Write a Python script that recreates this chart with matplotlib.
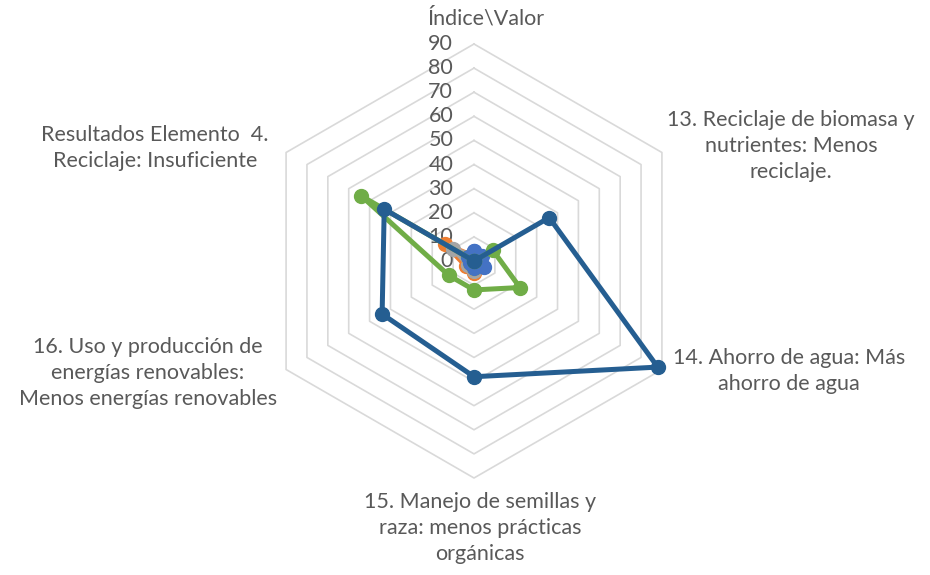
import numpy as np
import matplotlib.pyplot as plt

categories = [
    "Índice\\Valor",
    "13. Reciclaje de biomasa y\nnutrientes: Menos\nreciclaje.",
    "14. Ahorro de agua: Más\nahorro de agua",
    "15. Manejo de semillas y\nraza: menos prácticas\norgánicas",
    "16. Uso y producción de\nenergías renovables:\nMenos energías renovables",
    "Resultados Elemento  4.\nReciclaje: Insuficiente",
]
ticks = [0, 10, 20, 30, 40, 50, 60, 70, 80, 90]

orange = [2, 3, 4, 5, 4, 14]
gray = [2, 2, 3, 4, 3, 10]
yellow = [1, 2, 2, 3, 2, 3]
blue = [4, 4, 5, 3, 2, 3]
green = [0, 9, 22, 12, 12, 54]
navy = [0, 36, 88, 48, 44, 43]

series = [
    (orange, "#ED7D31"),
    (gray, "#A5A5A5"),
    (yellow, "#FFC000"),
    (blue, "#4472C4"),
    (green, "#70AD47"),
    (navy, "#255E91"),
]

W, H = 930, 575
fig = plt.figure(figsize=(W / 100, H / 100), dpi=100)
cx, cy, R = 474, 261, 217
ax = fig.add_axes([(cx - R) / W, (H - cy - R) / H, 2 * R / W, 2 * R / H], polar=True)
ax.set_theta_offset(np.pi / 2)
ax.set_theta_direction(-1)
ax.set_ylim(0, 90)
ax.grid(False)
ax.spines["polar"].set_visible(False)
ax.set_xticks([])
ax.set_yticks([])
ax.patch.set_alpha(0)

angles = np.linspace(0, 2 * np.pi, len(categories), endpoint=False)
closed = np.append(angles, angles[0])

# hexagonal gridlines
for level in ticks[1:]:
    ax.plot(closed, [level] * len(closed), color="#D9D9D9", lw=1.2, zorder=1,
            clip_on=False)

for vals, col in series:
    v = np.append(vals, vals[0])
    ax.plot(closed, v, color=col, lw=3.6, marker="o", ms=10,
            solid_joinstyle="round", zorder=3, clip_on=False)

txt = "#595959"
font = "Lato"
for t in ticks:
    ax.annotate(str(t), xy=(0, t), xytext=(-15, 0), textcoords="offset points",
                ha="right", va="center", fontsize=15.5, color=txt,
                family=font, zorder=2)

label_pos = [(486, 18), (791, 146), (789, 371), (480, 528), (148, 373), (155, 148)]
for lab, (x, y) in zip(categories, label_pos):
    fig.text(x / W, 1 - y / H, lab, ha="center", va="center", fontsize=15.5,
             color=txt, family=font, linespacing=1.38)

fig.savefig("out.png", dpi=100)
